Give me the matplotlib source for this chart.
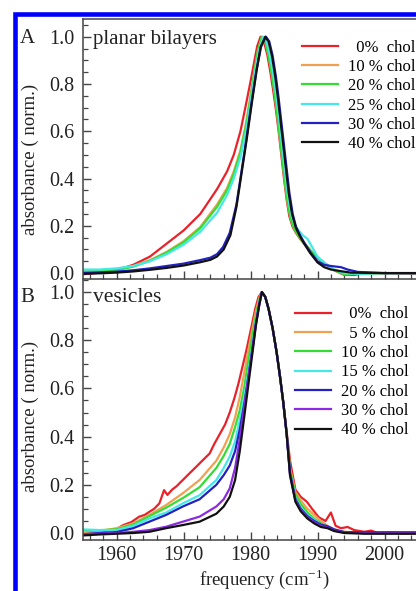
import numpy as np
import matplotlib
matplotlib.use('Agg')
import matplotlib.pyplot as plt
from matplotlib.patches import Rectangle
from matplotlib.ticker import MultipleLocator

plt.rcParams['font.family'] = ['Liberation Serif', 'DejaVu Serif']
plt.rcParams['mathtext.fontset'] = 'custom'
plt.rcParams['mathtext.rm'] = 'Liberation Serif'

# --- panel A: planar bilayers ---
fA_0 = [1955, 1957.5, 1960, 1962.5, 1965, 1967.5, 1970, 1972.5, 1975, 1976.5, 1977.5, 1978.5, 1979.3, 1980.0,
        1980.6, 1981.0, 1981.5, 1982.0, 1982.5, 1983.0, 1983.4, 1983.8, 1984.2, 1984.6, 1985.0, 1985.4, 1985.8,
        1986.3, 1986.8, 1987.4, 1988.0, 1989.0, 1990.0, 1991.4, 1992.5, 1994.0, 1995.5, 1997.0, 2000.0, 2005.0]
aA_0 = [-0.005, 0.002, 0.012, 0.035, 0.07, 0.125, 0.18, 0.25, 0.355, 0.43, 0.50, 0.60, 0.71, 0.81,
        0.90, 0.96, 1.0, 0.98, 0.925, 0.845, 0.77, 0.69, 0.60, 0.50, 0.40, 0.31, 0.24,
        0.195, 0.17, 0.145, 0.125, 0.09, 0.065, 0.035, 0.012, -0.008, -0.008, 0.0, 0.0, -0.002]

fA_10 = [1955, 1957.5, 1960, 1962.5, 1965, 1967.5, 1970, 1972.5, 1975, 1976.5, 1977.5, 1978.5, 1979.3, 1980.0,
         1980.6, 1981.1, 1981.7, 1982.2, 1982.7, 1983.2, 1983.6, 1984.0, 1984.4, 1984.8, 1985.2, 1985.6, 1986.0,
         1986.5, 1987.0, 1987.6, 1988.2, 1989.0, 1990.0, 1991.4, 1992.5, 1994.0, 1996.0, 2000.0, 2005.0]
aA_10 = [0.008, 0.01, 0.015, 0.03, 0.055, 0.09, 0.135, 0.195, 0.29, 0.36, 0.43, 0.52, 0.63, 0.75,
         0.86, 0.94, 1.0, 0.98, 0.92, 0.84, 0.76, 0.67, 0.57, 0.47, 0.37, 0.29, 0.23,
         0.19, 0.165, 0.14, 0.12, 0.095, 0.065, 0.035, 0.012, -0.005, -0.003, 0.0, 0.0]
aA_20 = [0.006, 0.008, 0.013, 0.027, 0.052, 0.087, 0.13, 0.19, 0.28, 0.35, 0.42, 0.51, 0.62, 0.74,
         0.855, 0.94, 1.0, 0.98, 0.92, 0.84, 0.76, 0.67, 0.57, 0.47, 0.37, 0.29, 0.23,
         0.19, 0.165, 0.14, 0.12, 0.095, 0.065, 0.035, 0.012, -0.005, -0.003, 0.0, 0.0]

fA_25 = [1955, 1957.5, 1960, 1962.5, 1965, 1967.5, 1970, 1972.5, 1975, 1976.5, 1977.5, 1978.5, 1979.4, 1980.1,
         1980.7, 1981.3, 1981.9, 1982.4, 1982.9, 1983.4, 1983.8, 1984.2, 1984.6, 1985.0, 1985.4, 1985.8, 1986.2,
         1986.7, 1987.2, 1987.8, 1988.5, 1989.2, 1990.0, 1991.4, 1992.5, 1994.0, 1996.0, 2000.0, 2005.0]
aA_25 = [0.015, 0.015, 0.02, 0.03, 0.05, 0.08, 0.12, 0.175, 0.255, 0.33, 0.40, 0.49, 0.61, 0.74,
         0.855, 0.945, 1.0, 0.98, 0.92, 0.84, 0.76, 0.67, 0.57, 0.47, 0.37, 0.29, 0.235,
         0.20, 0.18, 0.16, 0.145, 0.11, 0.07, 0.035, 0.015, 0.0, -0.003, 0.0, 0.0]

fA_30 = [1955, 1957.5, 1960, 1962.5, 1965, 1967.5, 1970, 1972.5, 1974.0, 1975.0, 1975.9, 1976.9, 1977.9, 1978.6,
         1979.4, 1980.2, 1980.9, 1981.6, 1982.3, 1982.8, 1983.3, 1983.8, 1984.2, 1984.6, 1985.0, 1985.4, 1985.8,
         1986.3, 1986.8, 1987.4, 1988.0, 1988.9, 1990.0, 1991.0, 1992.0, 1993.5, 1994.5, 1996.0, 2000.0, 2005.0]
aA_30 = [0.0, 0.003, 0.006, 0.012, 0.02, 0.03, 0.04, 0.055, 0.065, 0.08, 0.11, 0.17, 0.29, 0.42,
         0.57, 0.73, 0.86, 0.96, 1.0, 0.98, 0.92, 0.83, 0.74, 0.64, 0.54, 0.44, 0.34,
         0.25, 0.195, 0.16, 0.13, 0.09, 0.05, 0.035, 0.03, 0.025, 0.015, 0.005, 0.0, 0.0]

fA_40 = [1955, 1957.5, 1960, 1962.5, 1965, 1967.5, 1970, 1972.5, 1974.0, 1975.0, 1976.0, 1977.0, 1977.9, 1978.6,
         1979.4, 1980.2, 1980.9, 1981.5, 1982.2, 1982.7, 1983.2, 1983.7, 1984.1, 1984.5, 1984.9, 1985.3, 1985.7,
         1986.2, 1986.8, 1987.4, 1988.0, 1988.9, 1990.0, 1991.0, 1992.0, 1993.5, 1995.0, 2000.0, 2005.0]
aA_40 = [-0.003, -0.001, 0.002, 0.007, 0.014, 0.022, 0.032, 0.046, 0.056, 0.07, 0.1, 0.16, 0.28, 0.41,
         0.56, 0.72, 0.855, 0.955, 1.0, 0.98, 0.92, 0.83, 0.74, 0.64, 0.54, 0.44, 0.34,
         0.25, 0.19, 0.155, 0.125, 0.085, 0.045, 0.025, 0.015, 0.008, 0.002, 0.0, 0.0]

# --- panel B: vesicles ---
fB_0 = [1955, 1956, 1957.4, 1958.5, 1960, 1960.8, 1961.4, 1962.2, 1963.4, 1964.2, 1964.9, 1965.6, 1966.4, 1967.1,
        1967.6, 1968.3, 1969.0, 1969.9, 1970.8, 1971.9, 1972.8, 1973.9, 1974.6, 1975.4, 1976.2, 1976.9, 1977.6,
        1978.2, 1978.8, 1979.4, 1980.1, 1980.7, 1981.2, 1981.7, 1982.2, 1982.7, 1983.3, 1983.9, 1984.4, 1984.9,
        1985.4, 1985.9, 1986.7, 1987.5, 1988.4, 1989.2, 1990.2, 1991.2, 1992.0, 1992.7, 1993.5, 1994.5, 1995.5,
        1997.0, 1998.0, 1999.0, 2001.0, 2003.0, 2005.0]
aB_0 = [-0.005, 0.0, 0.006, 0.01, 0.015, 0.03, 0.037, 0.045, 0.068, 0.075, 0.088, 0.10, 0.123, 0.178,
        0.158, 0.18, 0.195, 0.22, 0.245, 0.275, 0.30, 0.33, 0.37, 0.41, 0.45, 0.50, 0.56,
        0.62, 0.69, 0.76, 0.85, 0.93, 0.98, 1.0, 0.98, 0.93, 0.85, 0.75, 0.65, 0.54,
        0.42, 0.30, 0.18, 0.15, 0.13, 0.10, 0.065, 0.05, 0.085, 0.03, 0.02, 0.025, 0.012,
        0.005, 0.01, 0.0, 0.002, -0.002, 0.0]

fB = [1955, 1957.5, 1960, 1962.5, 1964.9, 1967.4, 1969.9, 1972.4, 1974.9, 1976.0, 1976.9, 1977.7, 1978.4,
      1979.1, 1979.7, 1980.3, 1980.8, 1981.3, 1981.7, 1982.2, 1982.7, 1983.3, 1983.9, 1984.4, 1984.9, 1985.4,
      1985.9, 1986.7, 1987.5, 1988.5, 1989.5, 1990.5, 1991.5, 1992.5, 1994.0, 1997.0, 2005.0]
aB_5 = [0.0, 0.008, 0.02, 0.04, 0.075, 0.116, 0.165, 0.22, 0.30, 0.355, 0.41, 0.48, 0.565,
        0.67, 0.76, 0.85, 0.92, 0.975, 1.0, 0.98, 0.93, 0.85, 0.75, 0.65, 0.54, 0.41,
        0.27, 0.17, 0.135, 0.10, 0.075, 0.05, 0.03, 0.015, 0.005, 0.0, 0.0]
aB_10 = [0.01, 0.012, 0.015, 0.035, 0.07, 0.105, 0.145, 0.19, 0.27, 0.32, 0.37, 0.44, 0.51,
         0.61, 0.72, 0.82, 0.90, 0.965, 1.0, 0.98, 0.93, 0.85, 0.75, 0.65, 0.54, 0.41,
         0.26, 0.16, 0.12, 0.085, 0.06, 0.04, 0.025, 0.012, 0.003, 0.0, 0.0]
aB_15 = [0.015, 0.012, 0.012, 0.03, 0.06, 0.085, 0.123, 0.157, 0.22, 0.27, 0.317, 0.38, 0.47,
         0.57, 0.67, 0.78, 0.88, 0.955, 1.0, 0.98, 0.93, 0.85, 0.75, 0.65, 0.54, 0.41,
         0.25, 0.145, 0.105, 0.075, 0.055, 0.035, 0.025, 0.012, 0.002, 0.0, 0.0]
aB_20 = [-0.005, 0.0, 0.004, 0.02, 0.047, 0.075, 0.11, 0.14, 0.2, 0.24, 0.28, 0.34, 0.43,
         0.54, 0.65, 0.77, 0.87, 0.95, 1.0, 0.98, 0.93, 0.85, 0.75, 0.65, 0.54, 0.41,
         0.25, 0.14, 0.10, 0.07, 0.05, 0.035, 0.028, 0.015, 0.004, 0.003, 0.003]
aB_30 = [-0.005, -0.003, 0.0, 0.005, 0.012, 0.026, 0.047, 0.068, 0.11, 0.14, 0.185, 0.27, 0.39,
         0.53, 0.65, 0.76, 0.865, 0.945, 1.0, 0.98, 0.93, 0.85, 0.75, 0.65, 0.54, 0.41,
         0.24, 0.135, 0.095, 0.065, 0.045, 0.03, 0.022, 0.01, 0.002, 0.0, 0.0]
aB_40 = [-0.01, -0.006, -0.003, 0.0, 0.005, 0.02, 0.033, 0.047, 0.08, 0.11, 0.15, 0.22, 0.34,
         0.49, 0.62, 0.75, 0.86, 0.945, 1.0, 0.98, 0.93, 0.85, 0.75, 0.65, 0.54, 0.41,
         0.24, 0.13, 0.09, 0.06, 0.04, 0.025, 0.02, 0.008, 0.0, -0.003, -0.003]

labelsA = ['  0%  chol', '10 % chol', '20 % chol', '25 % chol', '30 % chol', '40 % chol']
labelsB = ['  0%  chol', '  5 % chol', '10 % chol', '15 % chol', '20 % chol', '30 % chol', '40 % chol']

c_red, c_orange, c_green, c_cyan = '#e8222a', '#f0a050', '#33dd33', '#44e8e8'
c_blue, c_purple, c_black = '#2222c0', '#8a2be2', '#111111'

seriesA = [(fA_0, aA_0, c_red), (fA_10, aA_10, c_orange), (fA_10, aA_20, c_green),
           (fA_25, aA_25, c_cyan), (fA_30, aA_30, c_blue), (fA_40, aA_40, c_black)]
seriesB = [(fB_0, aB_0, c_red), (fB, aB_5, c_orange), (fB, aB_10, c_green), (fB, aB_15, c_cyan),
           (fB, aB_20, c_blue), (fB, aB_30, c_purple), (fB, aB_40, c_black)]

W, H = 416, 591
fig = plt.figure(figsize=(W / 100, H / 100), dpi=100)
ax1 = fig.add_axes([83 / W, 1 - 279 / H, 335 / W, 260 / H])
ax2 = fig.add_axes([83 / W, 1 - 540 / H, 335 / W, 260 / H])


def style_axis(ax, ylim):
    ax.set_xlim(1955, 2005)
    ax.set_ylim(*ylim)
    ax.xaxis.set_major_locator(MultipleLocator(10))
    ax.xaxis.set_minor_locator(MultipleLocator(2))
    ax.yaxis.set_major_locator(MultipleLocator(0.2))
    ax.yaxis.set_minor_locator(MultipleLocator(0.05))
    ax.yaxis.set_major_formatter(matplotlib.ticker.FormatStrFormatter('%.1f'))
    ax.tick_params(which='both', direction='in', top=False, right=False, color='#444444',
                   labelsize=14.5, labelcolor='#222222')
    ax.tick_params(which='major', length=6, width=1.0)
    ax.tick_params(which='minor', length=3.5, width=0.9)
    ax.tick_params(axis='y', pad=6)
    ax.tick_params(axis='x', pad=4)
    for s in ax.spines.values():
        s.set_color('#444444')
        s.set_linewidth(1.1)


style_axis(ax1, (-0.025, 1.075))
style_axis(ax2, (-0.029, 1.05))
ax1.tick_params(axis='x', labelbottom=False)
ax2.spines['top'].set_visible(False)

for (f, a, c), lab in zip(seriesA, labelsA):
    ax1.plot(f, a, color=c, lw=1.6, label=lab)
for (f, a, c), lab in zip(seriesB, labelsB):
    ax2.plot(f, a, color=c, lw=1.6, label=lab)

leg_kw = dict(bbox_transform=fig.transFigure, loc='upper left', frameon=False, fontsize=12,
              handlelength=2.15, handletextpad=0.6, labelspacing=0.2, borderpad=0, borderaxespad=0)
ax1.legend(bbox_to_anchor=(302 / W, 1 - 39.5 / H), **leg_kw)
ax2.legend(bbox_to_anchor=(295 / W, 1 - 306.5 / H), **leg_kw)

fig.text(93 / W, 1 - 44 / H, 'planar bilayers', fontsize=15, va='baseline', color='#222222')
fig.text(93 / W, 1 - 302 / H, 'vesicles', fontsize=15.5, va='baseline', color='#222222')
fig.text(27 / W, 1 - 43 / H, 'A', fontsize=15, ha='center', va='baseline', color='#222222')
fig.text(27 / W, 1 - 302 / H, 'B', fontsize=15, ha='center', va='baseline', color='#222222')
fig.text(30 / W, 1 - 159 / H, 'absorbance ( norm.)', fontsize=13.5, rotation=90,
         ha='center', va='center', color='#222222')
fig.text(30 / W, 1 - 416 / H, 'absorbance ( norm.)', fontsize=13.5, rotation=90,
         ha='center', va='center', color='#222222')
fig.text(264 / W, 1 - 579 / H, r'frequency (cm$^{\mathregular{-1}}$)', fontsize=13.5,
         ha='center', va='center', color='#222222')

# blue frame around the figure
fig.patches.append(Rectangle((14.5 / W, -0.1), 1.2, 1 - 13.5 / H + 0.1, transform=fig.transFigure,
                             fill=False, edgecolor='#0000ff', linewidth=3.3, zorder=10))

fig.savefig('out.png', dpi=100)
